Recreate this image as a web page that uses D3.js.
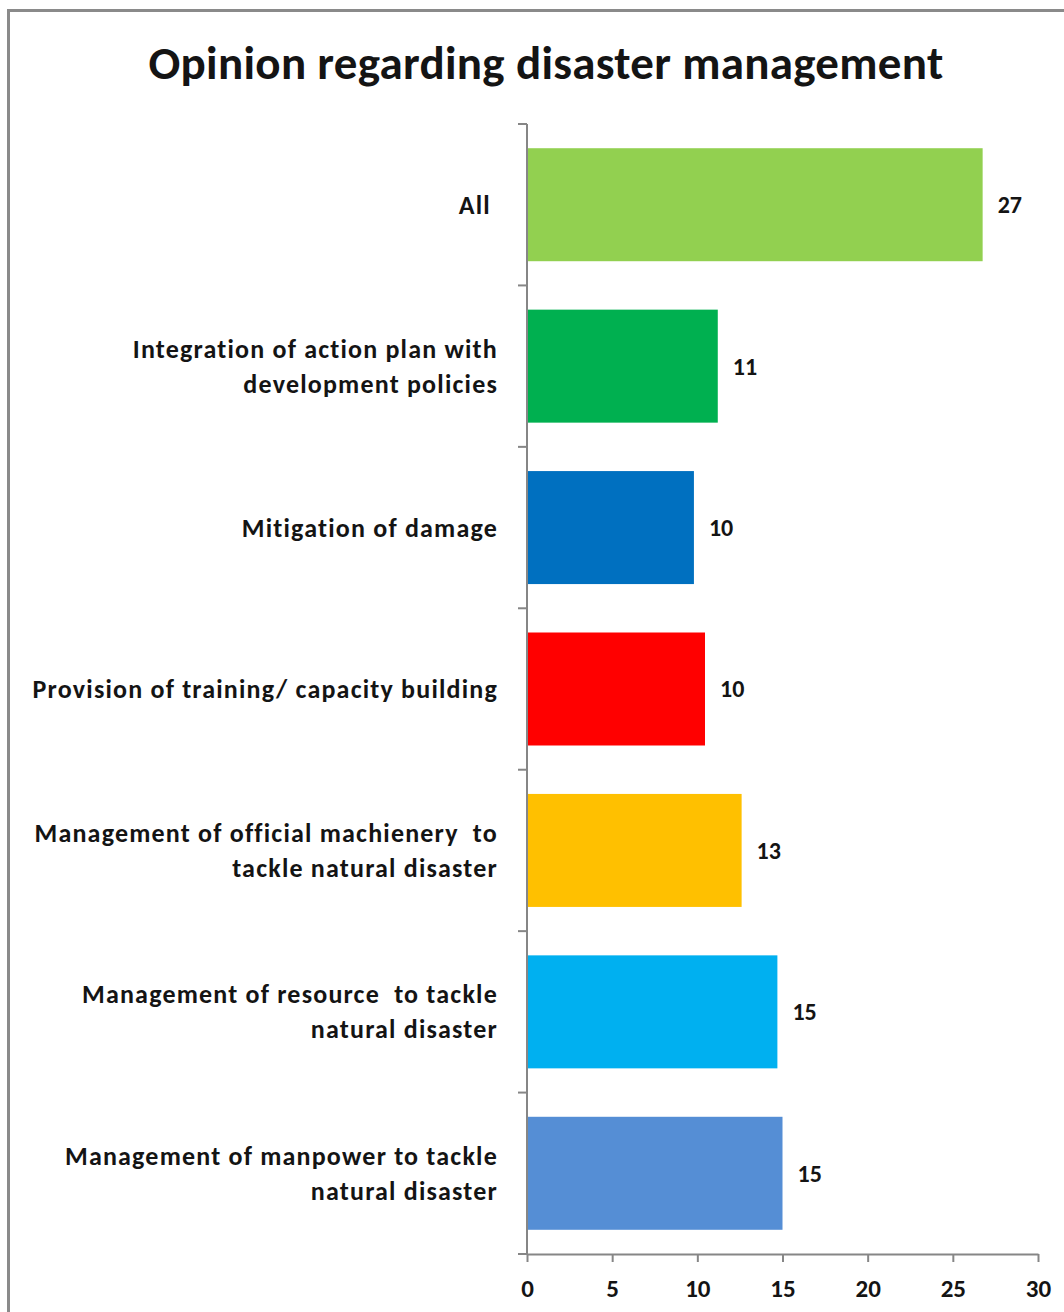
<!DOCTYPE html>
<html>
<head>
<meta charset="utf-8">
<script src="https://cdn.jsdelivr.net/npm/d3@7"></script>
<style>
  html, body { margin: 0; padding: 0; background: #fff; }
  svg { display: block; }
  text { font-family: Carlito, Calibri, Lato, "Open Sans", sans-serif; font-weight: bold; fill: #141414; }
</style>
</head>
<body>
<svg id="chart" width="1064" height="1312"></svg>
<script>
// Survey responses: opinion regarding disaster management (top to bottom)
const categories = [
  ["All "],
  ["Integration of action plan with", "development policies"],
  ["Mitigation of damage"],
  ["Provision of training/ capacity building"],
  ["Management of official machienery  to", "tackle natural disaster"],
  ["Management of resource  to tackle", "natural disaster"],
  ["Management of manpower to tackle", "natural disaster"]
];
const values = [26.75, 11.2, 9.8, 10.45, 12.6, 14.7, 15.0];
const barColors = ["#92D050", "#00B050", "#0070C0", "#FF0000", "#FFC000", "#00B0F0", "#558ED5"];
const xTicks = [0, 5, 10, 15, 20, 25, 30];
const chartTitle = "Opinion regarding disaster management";

const svg = d3.select("#chart");
const axisColor = "#868686";

// Outer frame (runs off the right and bottom edges)
svg.append("rect")
  .attr("x", 8.5).attr("y", 10.5)
  .attr("width", 1100).attr("height", 1400)
  .attr("fill", "none")
  .attr("stroke", "#8a8a8a")
  .attr("stroke-width", 3);

// Title
svg.append("text")
  .attr("x", 546).attr("y", 79)
  .attr("text-anchor", "middle")
  .style("font-size", "47px")
  .style("letter-spacing", "0.3px")
  .text(chartTitle);

const keys = categories.map((c, i) => i);
const x = d3.scaleLinear().domain([0, 30]).range([527, 1038]);
const y = d3.scaleBand().domain(keys).range([124, 1254]).paddingInner(0.3).paddingOuter(0.15);
const step = y.step();

// Bars
svg.append("g").selectAll("rect")
  .data(keys)
  .join("rect")
  .attr("x", x(0))
  .attr("y", i => y(i))
  .attr("width", i => x(values[i]) - x(0))
  .attr("height", y.bandwidth())
  .attr("fill", i => barColors[i]);

// Value labels
svg.append("g").selectAll("text")
  .data(keys)
  .join("text")
  .attr("x", i => x(values[i]) + 15)
  .attr("y", i => y(i) + y.bandwidth() / 2)
  .attr("dy", "0.35em")
  .style("font-size", "24px")
  .text(i => d3.format(".0f")(values[i]));

// X axis
const xAxis = svg.append("g")
  .attr("transform", `translate(0,${y.range()[1]})`)
  .call(d3.axisBottom(x).tickValues(xTicks).tickSize(8).tickSizeOuter(0).tickPadding(17));
xAxis.select(".domain").attr("stroke", axisColor).attr("stroke-width", 2);
xAxis.selectAll(".tick line").attr("stroke", axisColor).attr("stroke-width", 2);
xAxis.selectAll(".tick text")
  .attr("fill", "#141414")
  .style("font-size", "25px")
  .style("font-family", "Carlito, Calibri, Lato, 'Open Sans', sans-serif")
  .style("font-weight", "bold");

// Y axis: vertical line with ticks at category boundaries
const yAxis = svg.append("g");
yAxis.append("line")
  .attr("x1", x(0)).attr("x2", x(0))
  .attr("y1", y.range()[0]).attr("y2", y.range()[1])
  .attr("stroke", axisColor).attr("stroke-width", 2);
const boundaries = d3.range(categories.length + 1).map(k => y.range()[0] + k * step);
yAxis.selectAll("line.tick")
  .data(boundaries)
  .join("line")
  .attr("class", "tick")
  .attr("x1", x(0) - 9).attr("x2", x(0))
  .attr("y1", d => d).attr("y2", d => d)
  .attr("stroke", axisColor).attr("stroke-width", 2);

// Category labels (right-aligned, wrapped lines centred on each band)
const lineH = 35;
const labels = svg.append("g").selectAll("text")
  .data(keys)
  .join("text")
  .attr("text-anchor", "end")
  .style("font-size", "26px")
  .style("letter-spacing", "1.2px")
  .attr("y", i => y(i) + y.bandwidth() / 2);
labels.each(function(i) {
  const lines = categories[i];
  const t = d3.select(this);
  lines.forEach((ln, j) => {
    t.append("tspan")
      .attr("x", 498)
      .attr("dy", j === 0 ? `${-(lines.length - 1) * lineH / 2 + 9}` : `${lineH}`)
      .style("white-space", "pre")
      .text(ln);
  });
});
</script>
</body>
</html>
